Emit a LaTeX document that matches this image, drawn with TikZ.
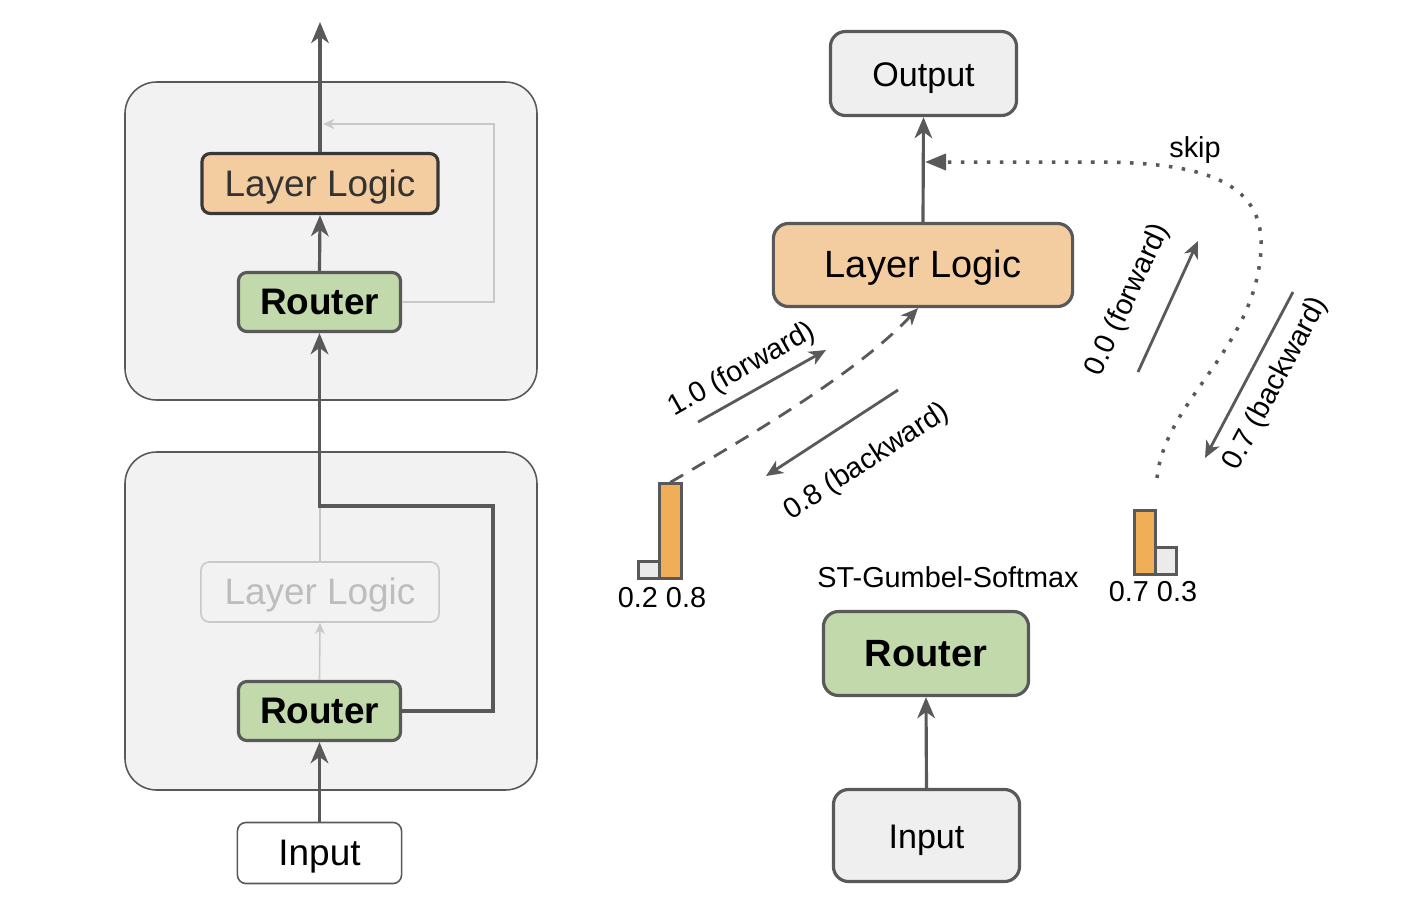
\documentclass[tikz,border=0pt]{standalone}
\usepackage{fontspec}
\setmainfont{Liberation Sans}
\usetikzlibrary{arrows.meta,calc}

\definecolor{linegray}{HTML}{595959}
\definecolor{panelfill}{HTML}{F2F2F2}
\definecolor{logicfill}{HTML}{F3CDA0}
\definecolor{routerfill}{HTML}{C2D9AB}
\definecolor{iofill}{HTML}{EFEFEF}
\definecolor{fadegray}{HTML}{C8C8C8}
\definecolor{fadetext}{HTML}{BDBDBD}
\definecolor{barorange}{HTML}{F0AE57}
\definecolor{bargray}{HTML}{EBEBEB}
\definecolor{logictext}{HTML}{333333}

\tikzset{
  bigfont/.style={font=\fontsize{10.5}{12}\selectfont},
  smallfont/.style={font=\fontsize{8.2}{10}\selectfont},
  panel/.style={draw=linegray, fill=panelfill, line width=0.45pt, rounded corners=9pt},
  blk/.style={draw=linegray, line width=0.9pt, rounded corners=2.4pt, inner sep=0pt,
    text height=0.72em, text depth=0pt, bigfont},
  logicblk/.style={blk, draw=black!78, fill=logicfill, text=logictext,
    minimum width=2.36cm, minimum height=0.6cm},
  fadeblk/.style={blk, draw=fadegray, line width=0.45pt, text=fadetext,
    minimum width=2.38cm, minimum height=0.6cm},
  routerblk/.style={blk, fill=routerfill, minimum width=1.62cm, minimum height=0.59cm,
    font=\fontsize{10.5}{12}\selectfont\bfseries},
  inblk/.style={blk, fill=white, line width=0.45pt, minimum width=1.64cm, minimum height=0.61cm},
  rblk/.style={blk, rounded corners=4.3pt},
  iorblk/.style={rblk, fill=iofill, font=\fontsize{9.7}{11}\selectfont},
  flow/.style={draw=linegray, line width=0.9pt, -{Stealth[length=6pt,width=5pt,inset=1.8pt]}},
  thinflow/.style={draw=linegray, line width=0.8pt, -{Stealth[length=4.8pt,width=4.2pt,inset=1.4pt]}},
  fadeflow/.style={draw=fadegray, line width=0.45pt, -{Stealth[length=3.2pt,width=2.8pt,inset=1pt]}},
  dashflow/.style={draw=linegray, line width=0.8pt, dash pattern=on 4.2pt off 3pt,
    -{Stealth[length=4.8pt,width=4.2pt,inset=1.4pt]}},
  skipflow/.style={draw=linegray, line width=1pt, dash pattern=on 1pt off 2.7pt,
    -{Triangle[length=6pt,width=4.6pt]}},
  bar/.style={draw=linegray, line width=0.75pt, inner sep=0pt, anchor=south west},
}

\begin{document}
\begin{tikzpicture}[x=0.01cm,y=-0.01cm]
  \useasboundingbox (0,0) rectangle (1420,908);

  % left: two stacked layers
  \draw[panel] (125,82) rectangle (537,400);
  \draw[panel] (125,452) rectangle (537,790);

  \node[logicblk] (logicUp) at (320,183.5) {Layer Logic};
  \node[routerblk] (routerUp) at (319.5,302) {Router};
  \node[fadeblk] (logicLo) at (320,592) {Layer Logic};
  \node[routerblk] (routerLo) at (319.5,711) {Router};
  \node[inblk] (inputL) at (319.5,853) {Input};

  \coordinate (topout) at (320,22);
  \coordinate (loopcorner) at (494,124);
  \coordinate (loopend) at (323,124);
  \coordinate (bypass) at (493,506);

  \draw[fadeflow] (routerUp.east) -| (loopcorner) -- (loopend);
  \draw[fadeflow] (routerLo.north) -- (logicLo.south);
  \draw[draw=fadegray, line width=0.45pt] (logicLo.north) -- (logicLo.north |- bypass);
  \draw[flow] (routerLo.east) -| (bypass) -| (routerUp.south);
  \draw[flow] (inputL.north) -- (routerLo.south);
  \draw[flow] (routerUp.north) -- (logicUp.south);
  \draw[flow] (logicUp.north) -- (topout);

  % right: one layer with gumbel router
  \node[iorblk] (output) at (923.5,73.5) [minimum width=1.86cm, minimum height=0.84cm] {Output};
  \node[rblk, fill=logicfill] (logicR) at (923,265) [minimum width=2.99cm, minimum height=0.83cm,
    font=\fontsize{10.8}{12}\selectfont] {Layer Logic};
  \node[rblk, fill=routerfill] (routerR) at (926,653.5) [minimum width=2.05cm, minimum height=0.84cm,
    font=\fontsize{10.8}{12}\selectfont\bfseries] {Router};
  \node[iorblk] (inputR) at (926.5,835.5) [minimum width=1.86cm, minimum height=0.92cm] {Input};
  \node[smallfont] (gumbel) at (948,577) {ST-Gumbel-Softmax};

  \draw[flow] (inputR.north) -- (routerR.south);
  \draw[flow] (logicR.north) -- (output.south);

  % probability bars
  \node[bar, fill=bargray, minimum width=0.21cm, minimum height=0.17cm] (barAlow) at (637,580) {};
  \node[bar, fill=barorange, minimum width=0.22cm, minimum height=0.95cm] (barAhigh) at (658,580) {};
  \node[smallfont] (barAlbl) at (662,598) {0.2 0.8};
  \node[bar, fill=barorange, minimum width=0.21cm, minimum height=0.64cm] (barBhigh) at (1133,576) {};
  \node[bar, fill=bargray, minimum width=0.21cm, minimum height=0.27cm] (barBlow) at (1154,576) {};
  \node[smallfont] (barBlbl) at (1153,592) {0.7 0.3};

  \draw[dashflow] (barAhigh.north) .. controls (760,430) and (860,370) .. ($(logicR.south)+(-5,0)$);

  \coordinate (skipstart) at (1157,478);
  \coordinate (skipend) at (925,162);
  \draw[skipflow] (skipstart) .. controls (1165,400) and (1255,350) .. (1261,250)
    .. controls (1265,180) and (1200,163) .. (1100,162) -- (skipend);
  \node[smallfont] (skiplbl) at (1195,150) {skip};

  % gradient / value arrows
  \coordinate (fwAa) at (698,422);
  \coordinate (fwAb) at (826,350);
  \coordinate (bwAa) at (898,390);
  \coordinate (bwAb) at (766,476);
  \coordinate (fwBa) at (1138,372);
  \coordinate (fwBb) at (1198,241);
  \coordinate (bwBa) at (1293,292);
  \coordinate (bwBb) at (1205,458);
  \draw[thinflow] (fwAa) -- (fwAb);
  \draw[thinflow] (bwAa) -- (bwAb);
  \draw[thinflow] (fwBa) -- (fwBb);
  \draw[thinflow] (bwBa) -- (bwBb);
  \node[smallfont, rotate=29.4] (fwAlbl) at (742,370) {1.0 (forward)};
  \node[smallfont, rotate=33.1] (bwAlbl) at (867,462) {0.8 (backward)};
  \node[smallfont, rotate=65.4] (fwBlbl) at (1128,300) {0.0 (forward)};
  \node[smallfont, rotate=62.1] (bwBlbl) at (1276,384) {0.7 (backward)};
\end{tikzpicture}
\end{document}
